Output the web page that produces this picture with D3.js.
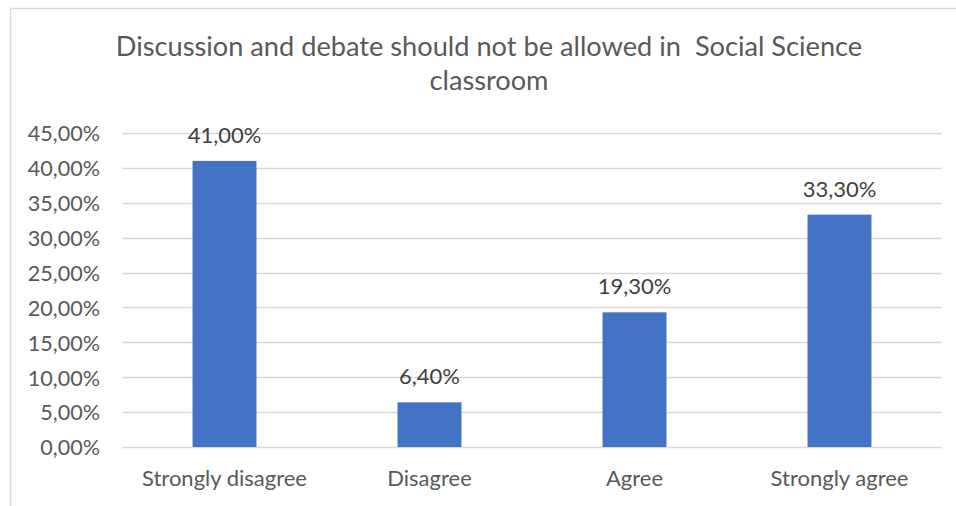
<!DOCTYPE html>
<html>
<head>
<meta charset="utf-8">
<script src="https://cdn.jsdelivr.net/npm/d3@7"></script>
<style>
  html, body { margin: 0; padding: 0; background: #fff; }
  svg { display: block; font-family: Lato, "Open Sans", sans-serif; }
</style>
</head>
<body>
<svg id="chart" width="956" height="506"></svg>
<script>
// Survey responses (share of respondents)
const categories = ["Strongly disagree", "Disagree", "Agree", "Strongly agree"];
const values = [0.41, 0.064, 0.193, 0.333];
const valueLabels = ["41,00%", "6,40%", "19,30%", "33,30%"];
const yTicks = [0, 0.05, 0.10, 0.15, 0.20, 0.25, 0.30, 0.35, 0.40, 0.45];
const titleLines = ["Discussion and debate should not be allowed in  Social Science", "classroom"];

const svg = d3.select("#chart");
const textColor = "#595959";
const labelSize = 22;
const tickSize = 21.6;

// Chart frame
svg.append("rect")
  .attr("x", 10.5).attr("y", 8.5)
  .attr("width", 960).attr("height", 520)
  .attr("fill", "#fff")
  .attr("stroke", "#d9d9d9")
  .attr("stroke-width", 1.5);

const plot = { left: 122, right: 942, top: 133, bottom: 447 };

const x = d3.scaleBand()
  .domain(categories)
  .range([plot.left, plot.right])
  .padding(0);

const y = d3.scaleLinear()
  .domain([0, 0.45])
  .range([plot.bottom, plot.top]);

const fmt = v => d3.format(".2f")(v * 100).replace(".", ",") + "%";

// Gridlines
svg.append("g")
  .selectAll("line")
  .data(yTicks)
  .join("line")
  .attr("x1", plot.left).attr("x2", plot.right)
  .attr("y1", d => Math.round(y(d)) + 0.5)
  .attr("y2", d => Math.round(y(d)) + 0.5)
  .attr("stroke", "#d9d9d9")
  .attr("stroke-width", 1.3);

// Y axis labels
const yAxis = d3.axisLeft(y).tickValues(yTicks).tickFormat(fmt).tickSize(0).tickPadding(0);
const yg = svg.append("g").attr("transform", `translate(100,0)`).call(yAxis);
yg.select(".domain").remove();
yg.selectAll("text")
  .attr("fill", textColor)
  .attr("font-size", tickSize)
  .attr("dy", "0.36em")
  .attr("font-family", "Lato, sans-serif");

// X axis labels
const xAxis = d3.axisBottom(x).tickSize(0).tickPadding(0);
const xg = svg.append("g").attr("transform", `translate(0,${plot.bottom + 39})`).call(xAxis);
xg.select(".domain").remove();
xg.selectAll("text")
  .attr("fill", textColor)
  .attr("font-size", labelSize)
  .attr("dy", 0)
  .attr("font-family", "Lato, sans-serif");

// Bars
const barW = x.bandwidth() * 0.312;
svg.append("g")
  .selectAll("rect")
  .data(values)
  .join("rect")
  .attr("x", (d, i) => x(categories[i]) + x.bandwidth() / 2 - barW / 2)
  .attr("y", d => y(d))
  .attr("width", barW)
  .attr("height", d => y(0) - y(d))
  .attr("fill", "#4472c4");

// Value labels
svg.append("g")
  .selectAll("text")
  .data(values)
  .join("text")
  .attr("x", (d, i) => x(categories[i]) + x.bandwidth() / 2)
  .attr("y", d => y(d) - 18)
  .attr("text-anchor", "middle")
  .attr("fill", "#404040")
  .attr("font-size", labelSize)
  .text((d, i) => valueLabels[i]);

// Title
svg.append("text")
  .attr("text-anchor", "middle")
  .attr("fill", textColor)
  .attr("font-size", 27.2)
  .style("white-space", "pre")
  .selectAll("tspan")
  .data(titleLines)
  .join("tspan")
  .attr("x", 489)
  .attr("y", (d, i) => 56 + i * 34)
  .text(d => d);
</script>
</body>
</html>
